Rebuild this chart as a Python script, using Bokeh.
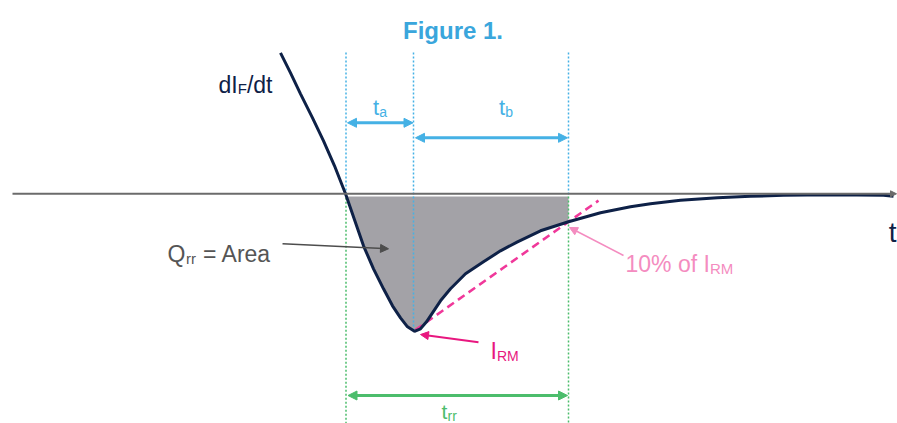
from bokeh.plotting import figure
from bokeh.models import Range1d, Arrow, NormalHead
from bokeh.core.properties import value
from bokeh.embed import file_html
from bokeh.resources import INLINE

# ---- data (time in arbitrary units, reverse-recovery current in arbitrary units, 0 = axis) ----
curve_t = [280, 290, 300, 312, 323, 334, 345, 354, 363, 373, 383, 392, 400, 407, 414,
           420, 426, 432, 440, 450, 465, 483, 500, 517, 540, 568, 600, 630, 650, 680,
           717, 750, 783, 830, 883, 893]
curve_i = [141, 121, 100, 76, 53, 28, 0, -26, -52, -75, -95, -112, -124, -133, -137.5,
           -135, -128, -119, -107, -95, -80, -68, -57, -48, -37, -28, -19, -13, -10, -6.5,
           -4, -2.5, -1.5, -1, -1.5, -2.5]

t_zero = 345.5      # current crosses zero (start of t_a / t_rr)
t_irm = 413.0       # peak reverse current (end of t_a)
t_rr_end = 568.0    # current back to 10 % of I_RM (end of t_b / t_rr)
i_rm = -137.5
i_10 = -28.0
dash_t_end = 598.0
fill_top = -2.7

# ---- styles ----
FONT = value("Liberation Sans")
NAVY = "#0e2147"
BLUE = "#45b1e5"
GREEN = "#4cbd6c"
PINK = "#e8177f"
LPINK = "#f48cc0"
GRAY = "#555555"
AXIS = "#6b6b6b"
FILL = "#a3a2a7"
TITLE = "#3aa6dc"
ZERO_PX = 193.3  # pixel row of the zero line


def py(px):
    """pixel row -> current value"""
    return ZERO_PX - px


p = figure(width=897, height=423, x_range=Range1d(0, 897), y_range=Range1d(py(423), py(0)),
           output_backend="svg", toolbar_location=None, min_border=0,
           x_axis_type=None, y_axis_type=None)
p.grid.visible = False
p.outline_line_color = None
p.background_fill_color = "white"

# shaded Q_rr area
xs = [t_zero] + [t for t in curve_t if t_zero <= t <= t_rr_end] + [t_rr_end]
ys = [fill_top] + [i for t, i in zip(curve_t, curve_i) if t_zero <= t <= t_rr_end] + [fill_top]
p.patch(xs, ys, fill_color=FILL, line_color=None)

# dotted guide lines
top = py(52)
bottom = py(423)
p.segment(x0=[t_zero, t_irm, t_rr_end], y0=[top, top, top],
          x1=[t_zero, t_irm, t_rr_end], y1=[0, i_rm, fill_top],
          line_color=BLUE, line_width=1.5, line_dash="2 2")
p.segment(x0=[t_zero, t_rr_end], y0=[0, fill_top], x1=[t_zero, t_rr_end], y1=[bottom, bottom],
          line_color=GREEN, line_width=1.5, line_dash="2 2")

# time axis
p.add_layout(Arrow(x_start=12, y_start=0, x_end=896, y_end=0, line_color=AXIS, line_width=2,
                   end=NormalHead(size=6, fill_color=AXIS, line_color=AXIS)))

# dashed tangent through I_RM and the 10 % point
slope = (i_10 - i_rm) / (t_rr_end - t_irm)
p.line([t_irm + 2, dash_t_end], [i_rm + 2 * slope, i_rm + slope * (dash_t_end - t_irm)],
       line_color="#f0389a", line_width=2.5, line_dash="8 5")

# current curve
p.line(curve_t, curve_i, line_color=NAVY, line_width=3)


def dbl_arrow(x0, x1, y, color):
    p.add_layout(Arrow(x_start=x0, y_start=y, x_end=x1, y_end=y, line_color=color, line_width=3,
                       start=NormalHead(size=9, fill_color=color, line_color=color),
                       end=NormalHead(size=9, fill_color=color, line_color=color)))


dbl_arrow(t_zero + 1.5, t_irm - 0.5, py(122.3), BLUE)
dbl_arrow(t_irm + 2, t_rr_end - 1, py(137.3), BLUE)
dbl_arrow(t_zero + 2, t_rr_end - 1, py(395), GREEN)


def pointer(x0, y0, x1, y1, color, w, size):
    p.add_layout(Arrow(x_start=x0, y_start=y0, x_end=x1, y_end=y1, line_color=color, line_width=w,
                       end=NormalHead(size=size, fill_color=color, line_color=color)))


pointer(282, py(243.3), 388, py(248.3), "#4d4d4d", 1.5, 8)
pointer(478, py(341.7), t_irm + 7, py(334), PINK, 2, 8)
pointer(623, py(255), t_rr_end + 1, py(227), LPINK, 1.5, 8)


def txt(x, ypx, s, size, color, align="left", style="normal"):
    p.text(x=[x], y=[py(ypx)], text=[s], text_font=FONT, text_font_size=f"{size}px",
           text_color=color, text_align=align, text_baseline="alphabetic",
           text_font_style=style)


txt(452.5, 30, "Figure 1.", 24, TITLE, align="center", style="bold")
txt(218, 84, "dI", 23, NAVY)
txt(237.2, 88, "F", 15, NAVY)
txt(246.4, 84, "/dt", 23, NAVY)
txt(372.5, 107, "t", 22, BLUE)
txt(378.8, 111, "a", 14, BLUE)
txt(498.5, 107, "t", 22, BLUE)
txt(504.8, 111, "b", 14, BLUE)
txt(167, 253, "Q", 23, GRAY)
txt(185.5, 257.5, "rr", 15, GRAY)
txt(202.5, 253, "= Area", 23, GRAY)
txt(490, 350, "I", 23, PINK)
txt(496.5, 355, "RM", 14, PINK)
txt(625, 263, "10% of I", 23, LPINK)
txt(709.4, 268, "RM", 15, LPINK)
txt(441, 411, "t", 21, GREEN)
txt(447, 415.5, "rr", 14, GREEN)
txt(896, 232, "t", 28, NAVY, align="right")

open("out.html", "w").write(file_html(p, INLINE))
